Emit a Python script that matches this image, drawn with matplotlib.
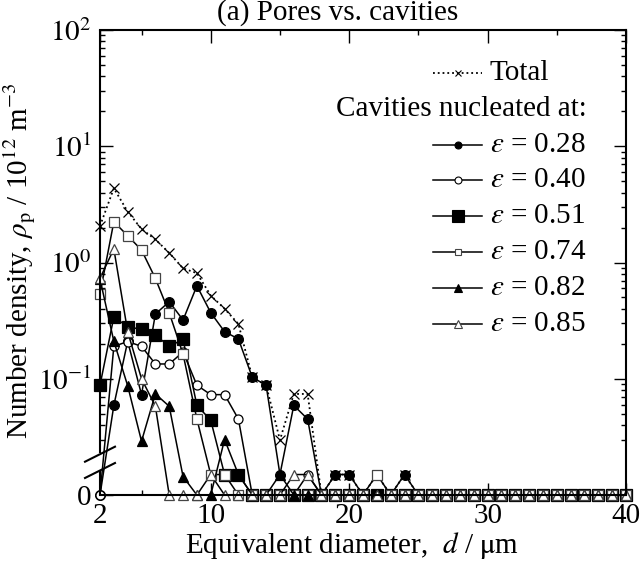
import matplotlib
matplotlib.use('Agg')

import matplotlib.pyplot as plt
import matplotlib.ticker as mticker
import numpy as np

plt.rcParams['font.family'] = ['Liberation Serif', 'DejaVu Serif']
plt.rcParams['mathtext.fontset'] = 'stix'

# equivalent diameter, um
diam = np.arange(2, 41)

# number density (10^12 m^-3), values from d = 2 up to 25, zero afterwards
total_head = [2.06, 4.35, 2.74, 1.94, 1.58, 1.21, 0.89, 0.81, 0.52, 0.40, 0.296, 0.103,
              0.088, 0.0297, 0.074, 0.074, 0, 0.015, 0.015, 0, 0.015, 0, 0.015, 0]
e028_head = [0, 0.059, 0.21, 0.073, 0.36, 0.46, 0.32, 0.63, 0.37, 0.254, 0.22, 0.103,
             0.088, 0.015, 0.059, 0.045, 0, 0.015, 0.015, 0, 0, 0, 0.015, 0]
e040_head = [0, 0.19, 0.209, 0.19, 0.134, 0.134, 0.17, 0.088, 0.073, 0.073, 0.045, 0,
             0, 0, 0, 0.015, 0, 0, 0, 0, 0, 0, 0, 0]
e051_head = [0.088, 0.34, 0.28, 0.266, 0.238, 0.19, 0.218, 0.059, 0.044, 0.015, 0.015, 0,
             0, 0, 0, 0, 0, 0, 0, 0, 0, 0, 0, 0]
e074_head = [0.54, 2.24, 1.70, 1.28, 0.73, 0.37, 0.163, 0.045, 0.015, 0.015, 0, 0,
             0, 0, 0, 0, 0, 0, 0, 0, 0.015, 0, 0, 0]
e082_head = [0.72, 0.21, 0.087, 0.029, 0.074, 0.058, 0.0144, 0, 0, 0.03, 0.015, 0,
             0, 0.015, 0, 0, 0, 0, 0, 0, 0, 0, 0, 0]
e085_head = [0.73, 1.31, 0.254, 0.10, 0.058, 0, 0, 0, 0.015, 0, 0, 0,
             0, 0, 0.015, 0.015, 0, 0, 0, 0, 0, 0, 0, 0]

strains = ['0.28', '0.40', '0.51', '0.74', '0.82', '0.85']

ZERO = 1e-2  # "0" is drawn at the bottom of the log axis
FS = 21


def full(head):
    vals = np.array(head + [0] * (len(diam) - len(head)), dtype=float)
    vals[vals <= 0] = ZERO
    return vals


fig = plt.figure(figsize=(6.41, 5.64), dpi=100)
ax = fig.add_axes([100 / 641, 69 / 564, 526 / 641, 465 / 564])

lw = 1.1
gray = '#444444'
# marker style per series: (marker, size in plot, size in legend, face, edge)
styles = [
    ('o', 7, 5, 'k', 'k'),
    ('o', 6.5, 5, 'w', 'k'),
    ('s', 8.5, 8, 'k', 'k'),
    ('s', 6.5, 5, 'w', gray),
    ('^', 7.5, 5.5, 'k', 'k'),
    ('^', 7.5, 5.5, 'w', gray),
]
series = [e028_head, e040_head, e051_head, e074_head, e082_head, e085_head]

ax.plot(diam, full(total_head), color='k', ls=':', lw=1.3, marker='x', ms=6.5, mew=0.9,
        clip_on=False)
for head, (mk, ms, _, fc, ec) in zip(series, styles):
    ax.plot(diam, full(head), color='k', lw=lw, marker=mk, ms=ms, mfc=fc, mec=ec,
            mew=0.9, clip_on=False)

ax.set_yscale('log')
ax.set_xlim(2, 40)
ax.set_ylim(ZERO, 100)

ax.set_xticks([2, 10, 20, 30, 40])
ax.set_xticklabels(['2', '10', '20', '30', '40'])
ax.xaxis.set_minor_locator(mticker.FixedLocator([5, 15, 25, 35]))
ax.set_yticks([1e-2, 1e-1, 1, 10, 100])
ax.set_yticklabels(['0', '$10^{-1}$', '$10^{0}$', '$10^{1}$', '$10^{2}$'])
minor = [m * 10.0 ** e for e in (-2, -1, 0, 1) for m in range(2, 10)]
minor = [v for v in minor if v >= 0.03]
ax.yaxis.set_minor_locator(mticker.FixedLocator(minor))
ax.yaxis.set_minor_formatter(mticker.NullFormatter())

ax.tick_params(which='both', direction='in', top=True, right=True, labelsize=FS, width=1.0)
ax.tick_params(which='major', length=9)
ax.tick_params(which='minor', length=3.5)
ax.tick_params(axis='x', pad=6)
ax.tick_params(axis='y', pad=6)

for s in ax.spines.values():
    s.set_linewidth(1.5)
# broken left spine
ax.spines['left'].set_visible(False)
ax.plot([0, 0], [0.0899, 1], transform=ax.transAxes, color='k', lw=1.5, clip_on=False,
        solid_capstyle='butt')
ax.plot([0, 0], [0, 0.0527], transform=ax.transAxes, color='k', lw=1.5, clip_on=False,
        solid_capstyle='butt')
ax.plot([-0.0285, 0.0285], [0.0716, 0.1039], transform=ax.transAxes, color='k', lw=1.5,
        clip_on=False)
ax.plot([-0.0285, 0.0285], [0.0366, 0.0688], transform=ax.transAxes, color='k', lw=1.5,
        clip_on=False)

ax.set_xlabel(r'Equivalent diameter,  $d$ / $\mathrm{\mu}$m', fontsize=FS)
ax.xaxis.set_label_coords(0.479, -0.075)
ax.set_ylabel(r'Number density, $\rho_\mathrm{p}$ / 10$^{12}$ m$^{-3}$', fontsize=FS)
ax.yaxis.set_label_coords(-0.117, 0.505)

fig.text(338 / 641, 1 - 20 / 564, '(a) Pores vs. cavities', ha='center', va='baseline',
         fontsize=FS)

# legend, drawn by hand in axes fraction
def ax_x(px):
    return (px - 100) / 526


def ax_y(py):
    return (495 - py) / 465


rows = [73 + 35.8 * i for i in range(8)]
h0, h1, tx = ax_x(433), ax_x(482), ax_x(490)
ax.plot([h0, h1], [ax_y(rows[0])] * 2, transform=ax.transAxes, color='k', ls=':',
        lw=1.3, clip_on=False)
ax.plot([(h0 + h1) / 2], [ax_y(rows[0])], transform=ax.transAxes, color='k', marker='x',
        ms=5, mew=0.8, clip_on=False)
ax.text(tx, ax_y(rows[0]), 'Total', transform=ax.transAxes, ha='left', va='center',
        fontsize=FS)
ax.text(ax_x(587), ax_y(rows[1]), 'Cavities nucleated at:', transform=ax.transAxes,
        ha='right', va='center', fontsize=FS)
for row, eps, (mk, _, lms, fc, ec) in zip(rows[2:], strains, styles):
    yy = ax_y(row)
    ax.plot([h0, h1], [yy, yy], transform=ax.transAxes, color='k', lw=lw, clip_on=False)
    ax.plot([(h0 + h1) / 2], [yy], transform=ax.transAxes, color='k', marker=mk, ms=lms,
            mfc=fc, mec=ec, mew=0.8, clip_on=False)
    ax.text(tx, yy, r'$\varepsilon$ = ' + eps, transform=ax.transAxes, ha='left',
            va='center', fontsize=FS)

fig.savefig('out.png', dpi=100)
